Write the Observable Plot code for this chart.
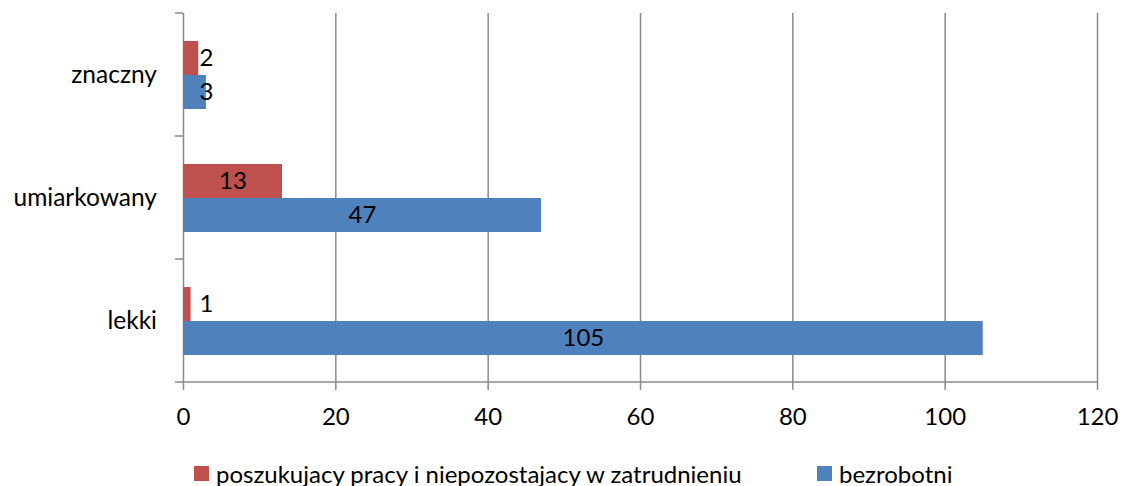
<!DOCTYPE html>
<html>
<head>
<meta charset="utf-8">
<script src="https://cdn.jsdelivr.net/npm/d3@7"></script>
<script src="https://cdn.jsdelivr.net/npm/@observablehq/plot@0.6"></script>
<style>
  html, body { margin: 0; padding: 0; background: #fff; }
  #chart { width: 1124px; height: 486px; position: relative; font-family: Lato, "Open Sans", sans-serif; }
  .legend { display: flex; align-items: center; height: 54px; font-size: 24px; color: #000; font-family: Lato, sans-serif; position: relative; }
  .legend .sw { width: 15px; height: 15px; display: inline-block; margin-right: 7px; }
  .legend .item { display: flex; align-items: center; position: absolute; }
</style>
</head>
<body>
<div id="chart"></div>
<script>
const categories = ["znaczny", "umiarkowany", "lekki"];
const seriesNames = ["poszukujacy pracy i niepozostajacy w zatrudnieniu", "bezrobotni"];
const seriesColors = ["#C0504D", "#4F81BD"];
const redValues = [2, 13, 1];
const blueValues = [3, 47, 105];
const xTicks = [0, 20, 40, 60, 80, 100, 120];

const data = [];
categories.forEach((c, i) => {
  data.push({category: c, series: seriesNames[0], value: redValues[i]});
  data.push({category: c, series: seriesNames[1], value: blueValues[i]});
});

const gridColor = "#8a8a8a";

const plot = Plot.plot({
  width: 1124,
  height: 446,
  marginTop: 12,
  marginBottom: 63,
  marginLeft: 183,
  marginRight: 27,
  style: {fontFamily: "Lato, 'Open Sans', sans-serif", fontSize: "24px", color: "#000", background: "#fff"},
  x: {domain: [0, 120], ticks: xTicks, label: null},
  y: {domain: seriesNames, paddingInner: 0, paddingOuter: 0.764, axis: null},
  fy: {domain: categories, padding: 0, label: null, axis: null},
  color: {domain: seriesNames, range: seriesColors},
  marks: [
    Plot.ruleX(xTicks.filter(d => d > 0), {stroke: gridColor, strokeWidth: 1.5}),
    Plot.ruleX([0], {stroke: gridColor, strokeWidth: 1.5}),
    Plot.barX(data, {x: "value", y: "series", fy: "category", fill: "series", inset: 0}),
    Plot.text(data, {x: d => Math.max(d.value / 2, 3), y: "series", fy: "category", text: d => String(d.value), fill: "#000", fontSize: 24}),
    Plot.axisX({ticks: xTicks, tickSize: 8, tickPadding: 17, stroke: gridColor, strokeWidth: 1.5, label: null, fontSize: 24, tickFormat: d => String(d)})
  ]
});

document.getElementById("chart").appendChild(plot);

// category axis: labels centered in bands, ticks at band boundaries, bottom axis line
const svg = d3.select(plot);
const fy = plot.scale("fy");
const x = plot.scale("x");
const x0 = x.apply(0);
const tops = categories.map(c => fy.apply(c));
const bw = fy.bandwidth;
const bounds = tops.concat([tops[tops.length - 1] + bw]);
const g = svg.append("g");
g.selectAll("line.bt").data(bounds).join("line")
  .attr("x1", x0 - 8).attr("x2", x0).attr("y1", d => d).attr("y2", d => d)
  .attr("stroke", gridColor).attr("stroke-width", 1.5);
g.append("line")
  .attr("x1", x0).attr("x2", x.apply(120))
  .attr("y1", bounds[bounds.length - 1]).attr("y2", bounds[bounds.length - 1])
  .attr("stroke", gridColor).attr("stroke-width", 1.5);
g.selectAll("text.cat").data(categories).join("text")
  .attr("x", x0 - 26).attr("y", (d, i) => tops[i] + bw / 2)
  .attr("text-anchor", "end").attr("dy", "0.35em")
  .attr("font-size", 24.5).attr("fill", "#000")
  .text(d => d);

// legend below svg
const legend = document.createElement("div");
legend.className = "legend";
const positions = [194, 817];
seriesNames.forEach((s, i) => {
  const it = document.createElement("div");
  it.className = "item";
  it.style.left = positions[i] + "px";
  const sw = document.createElement("span");
  sw.className = "sw";
  sw.style.background = seriesColors[i];
  const tx = document.createElement("span");
  tx.textContent = s;
  it.appendChild(sw);
  it.appendChild(tx);
  legend.appendChild(it);
});
document.getElementById("chart").appendChild(legend);
</script>
</body>
</html>
